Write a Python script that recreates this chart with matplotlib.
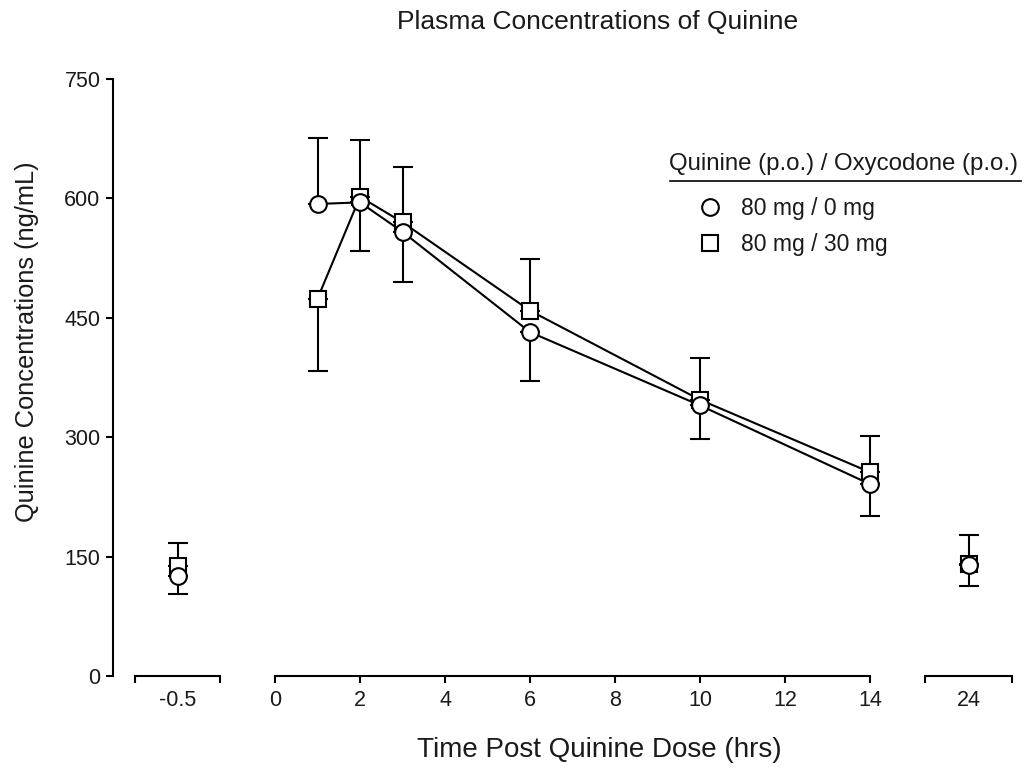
import matplotlib
matplotlib.use("Agg")
import matplotlib.pyplot as plt
from matplotlib.lines import Line2D

plt.rcParams['font.family'] = ['Liberation Sans', 'DejaVu Sans']

# time points (hrs); -0.5 and 24 sit on their own axis pieces
t_pre = [-0.5]
t_main = [1, 2, 3, 6, 10, 14]
t_late = [24]

# 80 mg / 0 mg (circles)
c_pre = [126]
c_main = [593, 595, 558, 432, 340, 241]
c_late = [140]
c_up_pre = [0]
c_up_main = [83, 0, 0, 0, 0, 0]
c_up_late = [0]
c_dn_pre = [23]
c_dn_main = [0, 61, 63, 62, 42, 40]
c_dn_late = [27]

# 80 mg / 30 mg (squares)
s_pre = [138]
s_main = [474, 602, 570, 459, 347, 256]
s_late = [141]
s_up_pre = [29]
s_up_main = [0, 71, 69, 65, 52, 45]
s_up_late = [36]
s_dn_pre = [0]
s_dn_main = [91, 0, 0, 0, 0, 0]
s_dn_late = [0]

yticks = [0, 150, 300, 450, 600, 750]
main_ticks = [0, 2, 4, 6, 8, 10, 12, 14]

W, H = 1032, 769
fig = plt.figure(figsize=(W / 100, H / 100), dpi=100)

bot = (H - 676) / H
hgt = 597 / H
ax1 = fig.add_axes([135 / W, bot, 85 / W, hgt])
ax2 = fig.add_axes([275 / W, bot, 595 / W, hgt])
ax3 = fig.add_axes([925 / W, bot, 87 / W, hgt])

lw = 1.5
msize = 12
tick_fs = 15.5
txt = '#1a1a1a'


def draw_err(ax, x, y, up, dn):
    for xi, yi, u, d in zip(x, y, up, dn):
        if u > 0:
            ax.errorbar([xi], [yi], yerr=[[0], [u]], fmt='none', ecolor='black',
                        elinewidth=lw, capsize=7, capthick=lw, zorder=2, clip_on=False)
        if d > 0:
            ax.errorbar([xi], [yi], yerr=[[d], [0]], fmt='none', ecolor='black',
                        elinewidth=lw, capsize=7, capthick=lw, zorder=2, clip_on=False)


def draw_series(ax, x, y, marker, ls, z):
    ax.plot(x, y, marker=marker, ls=ls, color='black', lw=lw, markersize=msize,
            markerfacecolor='white', markeredgecolor='black', markeredgewidth=lw,
            zorder=z, clip_on=False)


# pre-dose piece
draw_err(ax1, t_pre, s_pre, s_up_pre, s_dn_pre)
draw_err(ax1, t_pre, c_pre, c_up_pre, c_dn_pre)
draw_series(ax1, t_pre, s_pre, 's', 'none', 3)
draw_series(ax1, t_pre, c_pre, 'o', 'none', 4)

# main piece
draw_err(ax2, t_main, s_main, s_up_main, s_dn_main)
draw_err(ax2, t_main, c_main, c_up_main, c_dn_main)
draw_series(ax2, t_main, s_main, 's', '-', 3)
draw_series(ax2, t_main, c_main, 'o', '-', 4)

# 24 h piece
draw_err(ax3, t_late, s_late, s_up_late, s_dn_late)
draw_err(ax3, t_late, c_late, c_up_late, c_dn_late)
draw_series(ax3, t_late, s_late, 's', 'none', 3)
draw_series(ax3, t_late, c_late, 'o', 'none', 4)

for ax in (ax1, ax2, ax3):
    ax.set_ylim(0, 750)
    for sp in ('top', 'right'):
        ax.spines[sp].set_visible(False)
    ax.spines['bottom'].set_linewidth(lw)
    ax.tick_params(axis='x', direction='out', length=5, width=lw,
                   labelsize=tick_fs, pad=5, labelcolor=txt)

for ax in (ax2, ax3):
    ax.spines['left'].set_visible(False)
    ax.set_yticks([])

ax1.set_xlim(-1, 0)
ax1.set_xticks([-1, 0])
ax1.set_xticklabels(['', ''])
ax1.set_xticks([-0.5], minor=True)
ax1.set_xticklabels(['-0.5'], minor=True)
ax1.tick_params(axis='x', which='minor', length=0, labelsize=tick_fs, pad=10,
                labelcolor=txt)

ax3.set_xlim(23, 25)
ax3.set_xticks([23, 25])
ax3.set_xticklabels(['', ''])
ax3.set_xticks([24], minor=True)
ax3.set_xticklabels(['24'], minor=True)
ax3.tick_params(axis='x', which='minor', length=0, labelsize=tick_fs, pad=10,
                labelcolor=txt)

ax2.set_xlim(0, 14)
ax2.set_xticks(main_ticks)

# y spine sits 22 px left of the first piece
ax1.spines['left'].set_position(('outward', 22 * 72 / 100))
ax1.spines['left'].set_linewidth(lw)
ax1.set_yticks(yticks)
ax1.tick_params(axis='y', direction='out', length=5, width=lw,
                labelsize=tick_fs, pad=4, labelcolor=txt)

fig.text(27 / W, 1 - 342 / H, 'Quinine Concentrations (ng/mL)', fontsize=18.3,
         rotation=90, ha='center', va='center', color=txt)
fig.text(598 / W, 1 - 22 / H, 'Plasma Concentrations of Quinine', fontsize=19,
         ha='center', va='center', color=txt)
fig.text(599 / W, 1 - 750 / H, 'Time Post Quinine Dose (hrs)', fontsize=20,
         ha='center', va='center', color=txt)

# legend
fig.text(669 / W, 1 - 164 / H, 'Quinine (p.o.) / Oxycodone (p.o.)', fontsize=17.3,
         ha='left', va='center', color=txt)
fig.add_artist(Line2D([670 / W, 1021 / W], [1 - 181 / H, 1 - 181 / H],
                      color='black', lw=1.2))
handles = [
    Line2D([], [], marker='o', ls='none', color='black', markersize=msize,
           markerfacecolor='white', markeredgewidth=lw),
    Line2D([], [], marker='s', ls='none', color='black', markersize=msize,
           markerfacecolor='white', markeredgewidth=lw),
]
leg = fig.legend(handles, ['80 mg / 0 mg', '80 mg / 30 mg'], loc='upper left',
                 bbox_to_anchor=(685 / W, 1 - 186 / H), frameon=False, fontsize=16.5,
                 handletextpad=0.75, labelspacing=0.55, borderpad=0, handlelength=1.2)
for t in leg.get_texts():
    t.set_color(txt)

fig.savefig('out.png', dpi=100)
